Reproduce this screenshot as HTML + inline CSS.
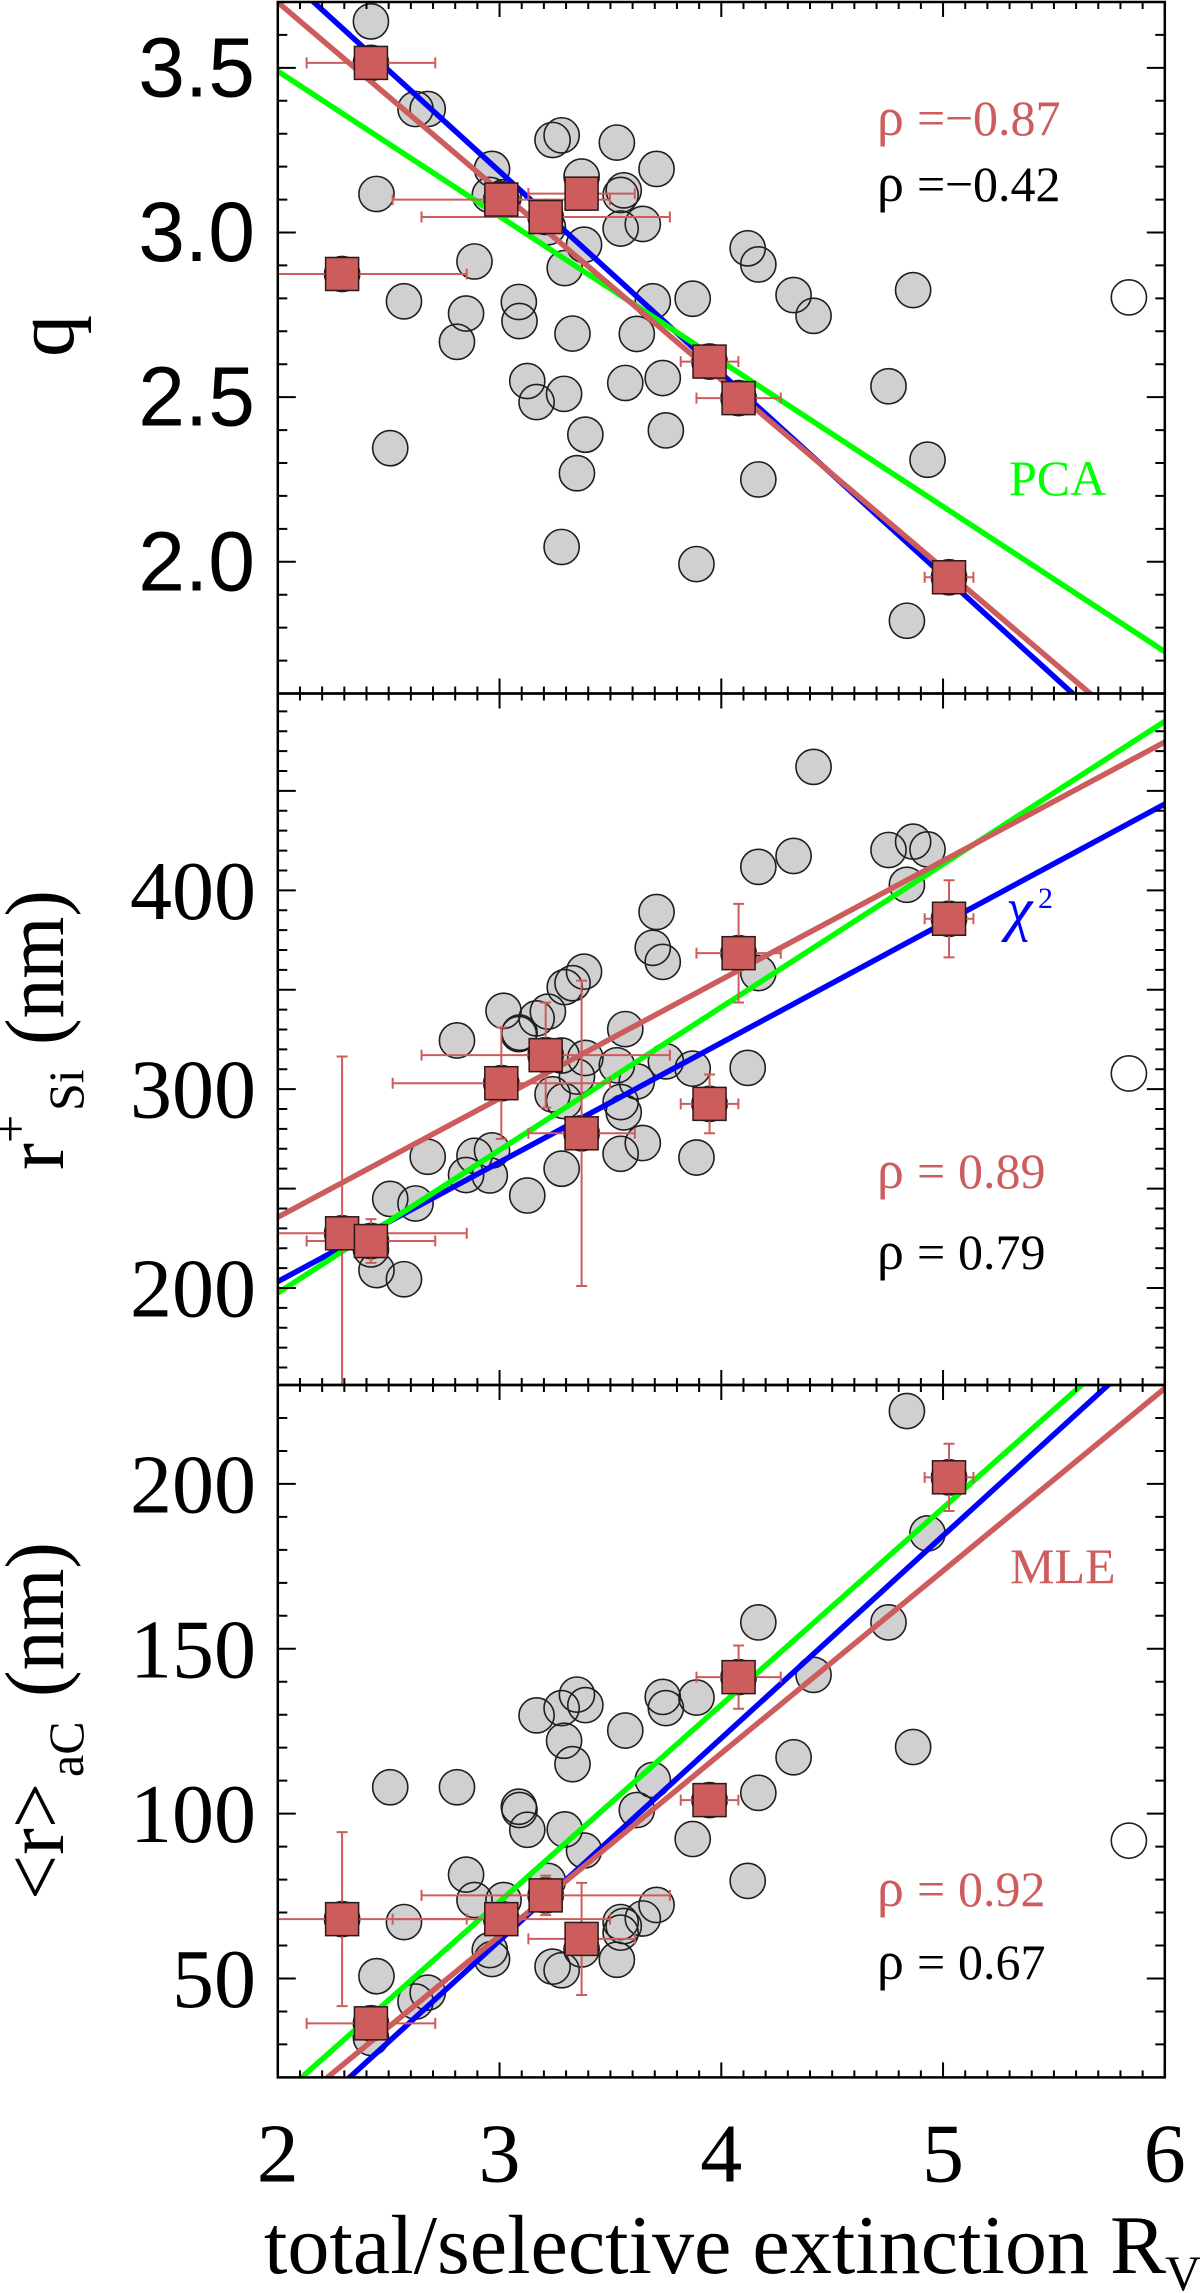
<!DOCTYPE html>
<html lang="en">
<head>
<meta charset="utf-8">
<title>Dust parameters versus total/selective extinction</title>
<style>
html,body{margin:0;padding:0;background:#fff;}
svg{display:block;}
text{font-family:"Liberation Serif",serif;fill:#000;}
.sans{font-family:"Liberation Sans",sans-serif;}
.rho{font-size:54px;}
</style>
</head>
<body>
<svg id="chart" xmlns="http://www.w3.org/2000/svg" width="1200" height="2293" viewBox="0 0 1200 2293">
<defs>
<clipPath id="clip-q"><rect x="277.8" y="2" width="887" height="691.5"/></clipPath>
<clipPath id="clip-rsi"><rect x="277.8" y="693.5" width="887" height="691.5"/></clipPath>
<clipPath id="clip-rac"><rect x="277.8" y="1385" width="887" height="692.4"/></clipPath>
</defs>
<g id="layer-plots"></g>
<g>
<text transform="translate(73,357) rotate(-90)" font-size="84">q</text>
</g>
<g>
<text transform="translate(63,1170) rotate(-90)" font-size="84" textLength="27" lengthAdjust="spacingAndGlyphs">r</text>
<text transform="translate(27,1143) rotate(-90)" font-size="50">+</text>
<text transform="translate(83,1111) rotate(-90)" font-size="50">Si</text>
<text transform="translate(63,1045) rotate(-90)" font-size="84" textLength="155" lengthAdjust="spacingAndGlyphs">(nm)</text>
</g>
<g>
<text transform="translate(63,1900) rotate(-90)" font-size="84" textLength="117" lengthAdjust="spacingAndGlyphs">&lt;r&gt;</text>
<text transform="translate(83,1777) rotate(-90)" font-size="50">aC</text>
<text transform="translate(63,1697) rotate(-90)" font-size="84" textLength="155" lengthAdjust="spacingAndGlyphs">(nm)</text>
</g>
<g>
<text x="264" y="2273" font-size="84" textLength="825" lengthAdjust="spacingAndGlyphs">total/selective extinction</text>
<text x="1110" y="2273" font-size="84">R</text>
<text x="1165" y="2290" font-size="50">V</text>
</g>
<g><text y="135" font-size="50" style="fill:#cd5c5c"><tspan class="rho" x="877">ρ</tspan><tspan x="917">=</tspan><tspan x="945">−</tspan><tspan x="973">0.87</tspan></text></g>
<g><text y="201" font-size="50"><tspan class="rho" x="877">ρ</tspan><tspan x="917">=</tspan><tspan x="945">−</tspan><tspan x="973">0.42</tspan></text></g>
<g><text y="1188" font-size="50" style="fill:#cd5c5c"><tspan class="rho" x="877">ρ</tspan><tspan x="917">=</tspan><tspan x="958">0.89</tspan></text></g>
<g><text y="1269" font-size="50"><tspan class="rho" x="877">ρ</tspan><tspan x="917">=</tspan><tspan x="958">0.79</tspan></text></g>
<g><text y="1906" font-size="50" style="fill:#cd5c5c"><tspan class="rho" x="877">ρ</tspan><tspan x="917">=</tspan><tspan x="958">0.92</tspan></text></g>
<g><text y="1979" font-size="50"><tspan class="rho" x="877">ρ</tspan><tspan x="917">=</tspan><tspan x="958">0.67</tspan></text></g>
<text x="1009" y="495" font-size="50" style="fill:#00ff00">PCA</text>
<g>
<text x="1006" y="929" font-size="60" font-style="italic" style="fill:#0000ff">χ</text>
<text x="1038" y="908" font-size="30" style="fill:#0000ff">2</text>
</g>
<text x="1010" y="1583" font-size="50" style="fill:#cd5c5c">MLE</text>
</svg>
<script>
// Sight-line sample: shared R_V plus one value per panel. The last entry is the open-circle outlier.
const rv = [2.29,2.42,2.42,2.445,2.507,2.569,2.621,2.676,2.808,2.849,2.887,2.956,2.966,3.008,3.018,3.087,3.09,3.125,3.167,3.208,3.218,3.239,3.28,3.28,3.291,3.294,3.329,3.349,3.37,3.381,3.387,3.529,3.546,3.546,3.56,3.567,3.619,3.646,3.691,3.708,3.736,3.75,3.871,3.888,3.947,4.078,4.119,4.167,4.167,4.326,4.416,4.754,4.837,4.865,4.93,5.027,5.838];
const qVals = [2.874,3.641,3.515,3.117,2.345,2.791,3.375,3.375,2.668,2.754,2.912,3.114,3.193,3.1,3.107,2.789,2.731,2.549,2.485,3.047,3.016,3.281,3.295,2.045,2.51,2.892,2.693,2.269,3.17,2.963,2.386,3.273,3.114,3.012,3.128,2.543,2.692,3.026,2.791,3.193,2.558,2.399,2.799,1.993,2.608,2.497,2.952,2.903,2.25,2.81,2.747,2.533,1.821,2.825,2.31,1.953,2.803];
const rSiVals = [227.5,219.4,223.6,209,244.8,204.4,242.5,266,324.5,256.8,266.5,256.6,269.2,303,339.4,327.7,328.4,246.5,335.6,317.1,339,297.4,260,316.9,294,351.3,353.3,306.3,277.8,359.1,315.7,312,293.5,267.5,288.3,330.2,303.9,272.9,371.1,389.1,364,314,310.3,265.6,292.6,368.4,310.7,411.8,358.4,417.3,462.1,420.3,402.8,424.5,420.6,385.7,307.9];
const rAcVals = [68,32,36.4,50.7,108,67.1,43,45.7,108,81.5,73.8,58.6,55.9,68,73.8,102.1,101.1,95.1,129.8,75.2,79.6,53.6,52.5,132,122.1,95.2,115,136.1,58.8,88.8,132.9,55.7,67.1,63.9,65.9,125.2,101.1,68.2,110.2,72.3,135.4,132,92.3,135.2,104.1,141.4,79.6,106.3,158,117.1,142.1,158,222.1,120.2,185,202,91.8];

// Subset with error bars (red squares).
const binRv = [2.29,2.42,3.008,3.208,3.37,3.947,4.078,5.027];
const binRvErr = [0.562,0.29,0.49,0.56,0.24,0.13,0.19,0.11];
const binQ = [2.874,3.515,3.1,3.047,3.118,2.608,2.497,1.953];
const binQErr = [0.02,0.02,0.02,0.02,0.02,0.02,0.02,0.02];
const binRSi = [227.5,223.6,303,317.1,277.8,292.6,368.4,385.7];
const binRSiErr = [88.9,11,28,26.4,76.8,14.8,24.8,19.4];
const binRAc = [68,36.4,68,75.2,62,104.1,141.4,202];
const binRAcErr = [26.4,4,4,6,17,4,9.6,10.2];

// Fit lines: values at the two ends of fitX.
const fitX = [2,6];
const fitQChi2 = [3.799,1.345];
const fitQMle = [3.699,1.407];
const fitQPca = [3.49,1.727];
const fitRSiChi2 = [203.2,443.4];
const fitRSiMle = [235.6,474.6];
const fitRSiPca = [197.5,485];
const fitRAcChi2 = [0.1,245.7];
const fitRAcMle = [7.6,229];
const fitRAcPca = [13.6,252.4];

// Tick labels.
const xTickLabels = [2,3,4,5,6];
const qTickLabels = ["2.0","2.5","3.0","3.5"];
const rSiTickLabels = [200,300,400];
const rAcTickLabels = [50,100,150,200];

const NS = 'http://www.w3.org/2000/svg';
const root = document.getElementById('layer-plots');
const RED = '#cd5c5c';
const X0 = 277.8, X1 = 1164.8;
const xScale = v => X0 + (v - 2) * (X1 - X0) / 4;

function mk(tag, attrs, parent) {
  const e = document.createElementNS(NS, tag);
  for (const k in attrs) e.setAttribute(k, attrs[k]);
  parent.appendChild(e);
  return e;
}

const panels = [
  { key:'q', clip:'clip-q', top:2, bottom:693.5, lo:1.6, hi:3.7, major:0.5, minor:0.1,
    vals:qVals, bin:binQ, binErr:binQErr, labels:qTickLabels, sans:true,
    chi:fitQChi2, mle:fitQMle, pca:fitQPca },
  { key:'r-si', clip:'clip-rsi', top:693.5, bottom:1385, lo:151.2, hi:499, major:50, minor:10,
    vals:rSiVals, bin:binRSi, binErr:binRSiErr, labels:rSiTickLabels, sans:false,
    chi:fitRSiChi2, mle:fitRSiMle, pca:fitRSiPca },
  { key:'r-ac', clip:'clip-rac', top:1385, bottom:2077.4, lo:20, hi:230, major:50, minor:10,
    vals:rAcVals, bin:binRAc, binErr:binRAcErr, labels:rAcTickLabels, sans:false,
    chi:fitRAcChi2, mle:fitRAcMle, pca:fitRAcPca }
];

function drawPanel(p) {
  const y = v => p.top + (p.hi - v) * (p.bottom - p.top) / (p.hi - p.lo);
  const g = mk('g', {}, root);
  
  
  const plot = mk('g', {'clip-path':'url(#' + p.clip + ')'}, g);
  const pts = mk('g', {style:'isolation:isolate'}, plot);

  rv.forEach((xv, i) => {
    const open = i === rv.length - 1;
    const c = mk('circle', {cx:xScale(xv), cy:y(p.vals[i]), r:17.6, fill:open ? '#fff' : '#d0d0d0', stroke:'#1f1f1f', 'stroke-width':1.6, style:'mix-blend-mode:darken'}, pts);
    
    
  });

  [['chi-squared-fit', p.chi, '#0000ff'], ['pca-fit', p.pca, '#00ff00'], ['mle-fit', p.mle, RED]].forEach(f => {
    const l = mk('line', {x1:xScale(fitX[0]), y1:y(f[1][0]), x2:xScale(fitX[1]), y2:y(f[1][1]), stroke:f[2], 'stroke-width':5.5}, plot);
    
    
  });

  binRv.forEach((xv, i) => {
    const cx = xScale(xv), cy = y(p.bin[i]);
    const xa = xScale(xv - binRvErr[i]), xb = xScale(xv + binRvErr[i]);
    const ya = y(p.bin[i] - p.binErr[i]), yb = y(p.bin[i] + p.binErr[i]);
    const d = 'M' + xa + ' ' + cy + 'H' + xb +
      'M' + xa + ' ' + (cy - 5.5) + 'V' + (cy + 5.5) +
      'M' + xb + ' ' + (cy - 5.5) + 'V' + (cy + 5.5) +
      'M' + cx + ' ' + ya + 'V' + yb +
      'M' + (cx - 5.5) + ' ' + ya + 'H' + (cx + 5.5) +
      'M' + (cx - 5.5) + ' ' + yb + 'H' + (cx + 5.5);
    const e = mk('path', {d:d, fill:'none', stroke:RED, 'stroke-width':2}, plot);
    
    
  });

  binRv.forEach((xv, i) => {
    const s = mk('rect', {x:xScale(xv) - 16.5, y:y(p.bin[i]) - 16.5, width:33, height:33, fill:RED, stroke:'#2a1a1a', 'stroke-width':1.5}, plot);
    
    
  });

  // y ticks, left and right
  let d = '';
  const n0 = Math.ceil(p.lo / p.minor - 1e-6), n1 = Math.floor(p.hi / p.minor + 1e-6);
  const every = Math.round(p.major / p.minor);
  for (let n = n0; n <= n1; n++) {
    const len = (n % every === 0) ? 18 : 9.5;
    const ty = y(n * p.minor);
    d += 'M' + X0 + ' ' + ty + 'h' + len + 'M' + X1 + ' ' + ty + 'h' + (-len);
  }
  // x ticks, bottom and top
  for (let n = 20; n <= 60; n++) {
    const len = (n % 10 === 0) ? 15 : 7;
    const tx = xScale(n / 10);
    d += 'M' + tx + ' ' + p.bottom + 'v' + (-len) + 'M' + tx + ' ' + p.top + 'v' + len;
  }
  const ticks = mk('path', {d:d, fill:'none', stroke:'#000', 'stroke-width':2}, g);
  
  

  const frame = mk('rect', {x:X0, y:p.top, width:X1 - X0, height:p.bottom - p.top, fill:'none', stroke:'#000', 'stroke-width':2.5}, g);
  
  

  p.labels.forEach(lab => {
    const t = mk('text', {x:p.sans ? 255 : 256, y:y(parseFloat(lab)) + 28.5, 'font-size':84, 'text-anchor':'end'}, g);
    if (p.sans) t.setAttribute('class', 'sans');
    t.textContent = lab;
    
    
  });
}
panels.forEach(drawPanel);

xTickLabels.forEach(v => {
  const t = mk('text', {x:xScale(v), y:2181.5, 'font-size':84, 'text-anchor':'middle'}, root);
  t.textContent = v;
  
  
});
</script>
</body>
</html>
